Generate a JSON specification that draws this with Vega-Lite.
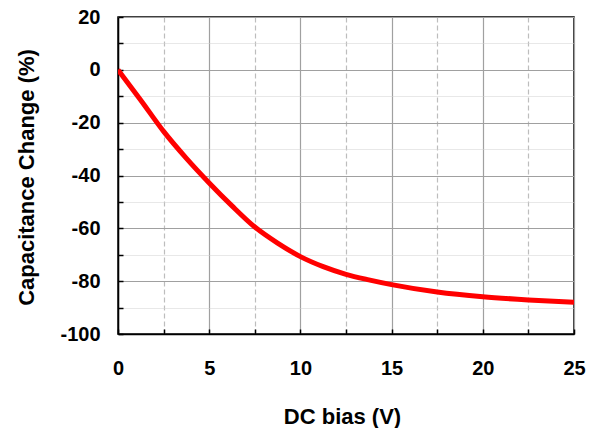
{
  "$schema": "https://vega.github.io/schema/vega-lite/v6.json",
  "width": 456,
  "height": 317,
  "autosize": {"type": "none"},
  "padding": {"left": 118, "top": 17, "right": 21, "bottom": 94},
  "background": "white",
  "config": {
    "view": {"stroke": "black", "strokeWidth": 1.5},
    "font": "Liberation Sans"
  },
  "data": {
    "values": [
      {"v": 0, "c": 0},
      {"v": 1.25, "c": -11.5},
      {"v": 2.5, "c": -23.3},
      {"v": 3.75, "c": -33.5},
      {"v": 5, "c": -42.8},
      {"v": 6.25, "c": -51.5},
      {"v": 7.5, "c": -59.5},
      {"v": 8.75, "c": -65.6},
      {"v": 10, "c": -70.7},
      {"v": 11.25, "c": -74.5},
      {"v": 12.5, "c": -77.4},
      {"v": 13.75, "c": -79.5},
      {"v": 15, "c": -81.3},
      {"v": 17.5, "c": -84.1},
      {"v": 20, "c": -85.9},
      {"v": 22.5, "c": -87.1},
      {"v": 25, "c": -88.0}
    ]
  },
  "mark": {"type": "line", "color": "#ff0000", "strokeWidth": 5, "interpolate": "monotone", "clip": true},
  "encoding": {
    "x": {
      "field": "v", "type": "quantitative",
      "scale": {"domain": [0, 25], "nice": false},
      "axis": {
        "title": "DC bias (V)",
        "values": [0, 2.5, 5, 7.5, 10, 12.5, 15, 17.5, 20, 22.5, 25],
        "labelExpr": "datum.value % 5 == 0 ? '' + datum.value : ''",
        "labelFlush": false,
        "labelFont": "Liberation Sans", "labelFontWeight": "bold", "labelFontSize": 20, "labelColor": "black",
        "labelPadding": 29,
        "tickSize": -5, "tickColor": "black", "tickWidth": 1.5,
        "domainColor": "black", "domainWidth": 1.5,
        "grid": true,
        "gridColor": {"condition": {"test": "datum.value % 5 != 0", "value": "#bdbdbd"}, "value": "#a0a0a0"},
        "gridDash": {"condition": {"test": "datum.value % 5 != 0", "value": [5, 3]}, "value": []},
        "gridWidth": 1.2,
        "titleFont": "Liberation Sans", "titleFontWeight": "bold", "titleFontSize": 22, "titleColor": "black",
        "titleX": 224, "titleY": 89, "titleBaseline": "alphabetic", "titleAnchor": "middle", "titleAlign": "center"
      }
    },
    "y": {
      "field": "c", "type": "quantitative",
      "scale": {"domain": [-100, 20], "nice": false},
      "axis": {
        "title": "Capacitance Change (%)",
        "values": [-100, -90, -80, -70, -60, -50, -40, -30, -20, -10, 0, 10, 20],
        "labelExpr": "datum.value % 20 == 0 ? '' + datum.value : ''",
        "labelFlush": false,
        "labelFont": "Liberation Sans", "labelFontWeight": "bold", "labelFontSize": 20, "labelColor": "black",
        "labelPadding": 23,
        "tickSize": -5, "tickColor": "black", "tickWidth": 1.5,
        "domainColor": "black", "domainWidth": 1.5,
        "grid": true,
        "gridColor": {"condition": {"test": "datum.value % 20 != 0", "value": "#d0d0d0"}, "value": "#a0a0a0"},
        "gridDash": {"condition": {"test": "datum.value % 20 != 0", "value": [1, 1]}, "value": []},
        "gridWidth": 1.2,
        "titleFont": "Liberation Sans", "titleFontWeight": "bold", "titleFontSize": 22, "titleColor": "black",
        "titleX": -84.5, "titleY": 160, "titleBaseline": "alphabetic", "titleAngle": -90, "titleAlign": "center"
      }
    }
  }
}
